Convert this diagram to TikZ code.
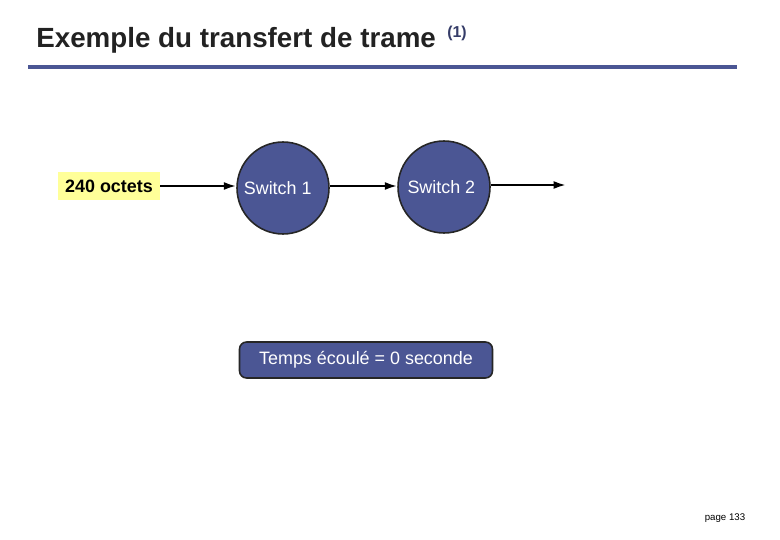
\documentclass[tikz,border=0pt]{standalone}
\usepackage{fontspec}
\setmainfont{Liberation Sans}
\usetikzlibrary{arrows.meta}
\definecolor{ardoise}{RGB}{75,86,148}
\definecolor{jaune}{RGB}{255,255,153}
\definecolor{titre}{RGB}{34,34,34}
\tikzset{
  switch/.style={circle,draw=black!85,line width=0.9pt,fill=ardoise,text=white,minimum size=1.84cm,inner sep=0pt,font=\fontsize{10.2}{12}\selectfont},
  fleche/.style={line width=1.2pt,-{Latex[length=7pt,width=4.5pt]}},
}
\begin{document}
\begin{tikzpicture}[x=0.02cm,y=-0.02cm]
\useasboundingbox (0,0) rectangle (780,540);
		% titre
		\node[anchor=base west,inner sep=0pt,text=titre,font=\fontsize{15.8}{18}\selectfont\bfseries] (T) at (36,48) {Exemple du transfert de trame};
		\node[anchor=base west,inner sep=0pt,text=ardoise!70!black,font=\fontsize{9}{11}\selectfont\bfseries] (N) at (447,38) {(1)};
		\coordinate (R1) at (28,67);
		\coordinate (R2) at (737,67);
		\draw[ardoise,line width=2.2pt] (R1)--(R2);
		
		% trame et switches
		\node[fill=jaune,minimum width=2.04cm,minimum height=0.56cm,inner sep=0pt,font=\fontsize{10.2}{12}\selectfont\bfseries] (O) at (109,186) {240 octets};
		\node[switch] (S1) at (283,188) {\hspace*{-6pt}Switch 1};
		\node[switch] (S2) at (444,187) {\hspace*{-3pt}Switch 2};
		\coordinate (F) at (566,185);
		\draw[fleche] (O.east)--(S1.west |- O.east);
		\draw[fleche] (S1.east |- 0,186) coordinate (a)--(S2.west |- a);
		\draw[fleche] (S2.east |- F)--(F);
		
		% temps
		\node[draw=black!85,line width=0.9pt,fill=ardoise,text=white,rounded corners=4pt,minimum width=5.06cm,minimum height=0.72cm,font=\fontsize{10.2}{12}\selectfont] (E) at (366,360) {Temps écoulé = 0 seconde};
		
		\node[font=\fontsize{5.5}{6}\selectfont,inner sep=0pt] (P) at (725,518) {page 133};
\end{tikzpicture}
\end{document}
